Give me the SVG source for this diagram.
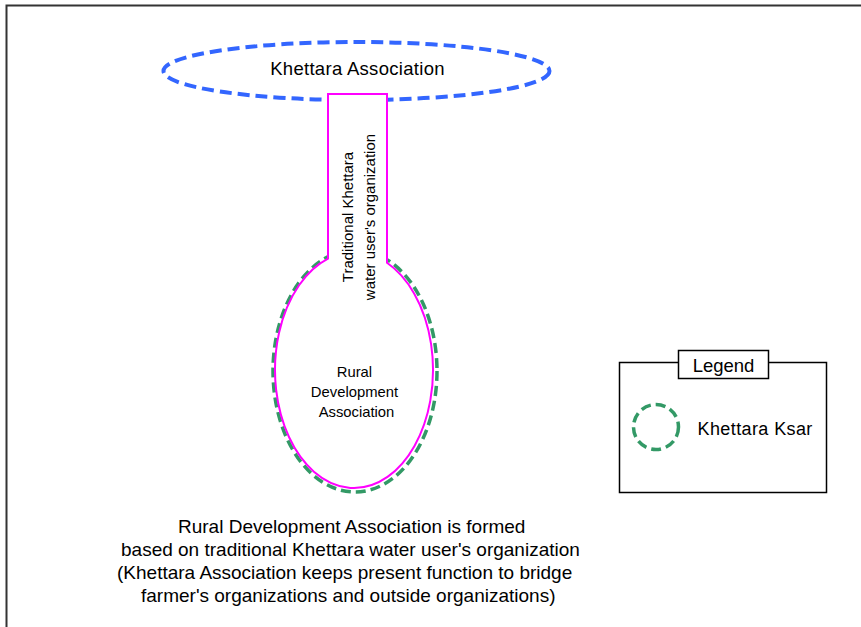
<svg xmlns="http://www.w3.org/2000/svg" width="861" height="627" viewBox="0 0 861 627">
  <style>
    .txt { font-family: "Liberation Sans", Arial, "Noto Sans CJK JP", sans-serif; fill: #000; }
    .ksar { fill: none; stroke: #339966; stroke-width: 3.5; stroke-dasharray: 10 5; }
    .assoc { fill: none; stroke: #3366FF; stroke-width: 4; stroke-dasharray: 12 6; }
    .org { fill: #fff; stroke: #FF00FF; stroke-width: 2; }
    .box { fill: #fff; stroke: #000; stroke-width: 1.5; }
  </style>

  <rect width="861" height="627" fill="#fff"/>
  <!-- page frame -->
  <path d="M6.5,640 V5.5 H870" fill="none" stroke="#333" stroke-width="2"/>

  <!-- Khettara Association -->
  <g id="khettara-association">
    <ellipse class="assoc" cx="356.5" cy="71" rx="193" ry="29"/>
    <text class="txt" x="357.5" y="75" font-size="18.5" text-anchor="middle" letter-spacing="0.3">Khettara Association</text>
  </g>

  <!-- Khettara Ksar boundary -->
  <g id="khettara-ksar">
    <ellipse class="ksar" cx="355" cy="371" rx="82" ry="121"/>
  </g>

  <!-- Traditional organization stem with Rural Development Association bulb -->
  <g id="rural-development-association">
    <path class="org" d="M328,258.6 L328,94 L387,94 L387,262.8 A79,118 0 1 1 328,258.6 Z"/>
    <g transform="translate(354,217) rotate(-90)">
      <text class="txt" x="0" y="-1" font-size="15" text-anchor="middle">Traditional Khettara</text>
      <text class="txt" x="0" y="21" font-size="15" text-anchor="middle">water user's organization</text>
    </g>
    <text class="txt" font-size="14.8" text-anchor="middle">
      <tspan x="356.5" y="377">Rural</tspan>
      <tspan x="356.5" y="397">Development</tspan>
      <tspan x="356.5" y="417">Association</tspan>
    </text>
  </g>

  <!-- Legend -->
  <g id="legend">
    <rect class="box" x="619.5" y="362.5" width="207" height="130"/>
    <rect class="box" x="678.5" y="350.5" width="90" height="28"/>
    <text class="txt" x="723.5" y="371.5" font-size="18.5" text-anchor="middle">Legend</text>
    <circle class="ksar" cx="656" cy="427" r="22.5" stroke-dasharray="9 5"/>
    <text class="txt" x="697.5" y="435" font-size="18" letter-spacing="0.4">Khettara Ksar</text>
  </g>

  <!-- Caption -->
  <g id="caption">
    <text class="txt" font-size="19">
      <tspan x="178" y="533">Rural Development Association is formed</tspan>
      <tspan x="121" y="556">based on traditional Khettara water user's organization</tspan>
      <tspan x="117" y="579">(Khettara Association keeps present function to bridge</tspan>
      <tspan x="141" y="602">farmer's organizations and outside organizations)</tspan>
    </text>
  </g>
</svg>
